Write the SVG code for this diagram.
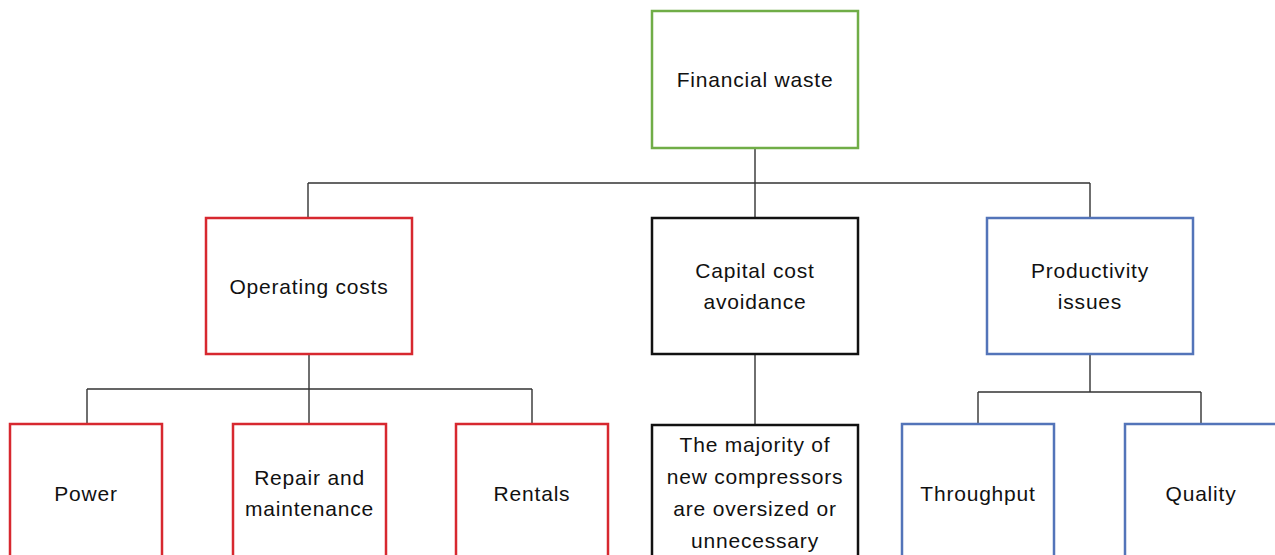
<svg xmlns="http://www.w3.org/2000/svg" width="1275" height="555" viewBox="0 0 1275 555">
<style>
rect{fill:#fff;stroke-width:2.5}
.g{stroke:#70ad47}
.r{stroke:#d7282f}
.k{stroke:#111}
.b{stroke:#5374b9}
text{font-family:"Liberation Sans",Arial,sans-serif;font-size:21px;fill:#111;text-anchor:middle;letter-spacing:0.8px}
#connectors path{fill:none;stroke:#333;stroke-width:1.4}
</style>
<rect width="1275" height="555" fill="#fff" style="stroke:none"/>
<g id="connectors">
<path d="M755 148V218M308 183H1090M308 183V218M1090 183V218"/>
<path d="M309 354V389M87 389H532M87 389V424M309 389V424M532 389V424"/>
<path d="M755 354V425"/>
<path d="M1090 354V392M978 392H1201M978 392V424M1201 392V424"/>
</g>
<g id="financial-waste"><rect class="g" x="652" y="11" width="206" height="137"/><text x="755" y="87">Financial waste</text></g>
<g id="operating-costs"><rect class="r" x="206" y="218" width="206" height="136"/><text x="309" y="294">Operating costs</text></g>
<g id="capital-cost"><rect class="k" x="652" y="218" width="206" height="136"/><text x="755" y="278">Capital cost</text><text x="755" y="309">avoidance</text></g>
<g id="productivity"><rect class="b" x="987" y="218" width="206" height="136"/><text x="1090" y="278">Productivity</text><text x="1090" y="309">issues</text></g>
<g id="power"><rect class="r" x="10" y="424" width="152" height="150"/><text x="86" y="501">Power</text></g>
<g id="repair"><rect class="r" x="233" y="424" width="153" height="150"/><text x="309.5" y="485">Repair and</text><text x="309.5" y="516">maintenance</text></g>
<g id="rentals"><rect class="r" x="456" y="424" width="152" height="150"/><text x="532" y="501">Rentals</text></g>
<g id="majority"><rect class="k" x="652" y="425" width="206" height="150"/><text x="755" y="452">The majority of</text><text x="755" y="484">new compressors</text><text x="755" y="516">are oversized or</text><text x="755" y="548">unnecessary</text></g>
<g id="throughput"><rect class="b" x="902" y="424" width="152" height="150"/><text x="978" y="501">Throughput</text></g>
<g id="quality"><rect class="b" x="1125" y="424" width="152" height="150"/><text x="1201" y="501">Quality</text></g>
</svg>
